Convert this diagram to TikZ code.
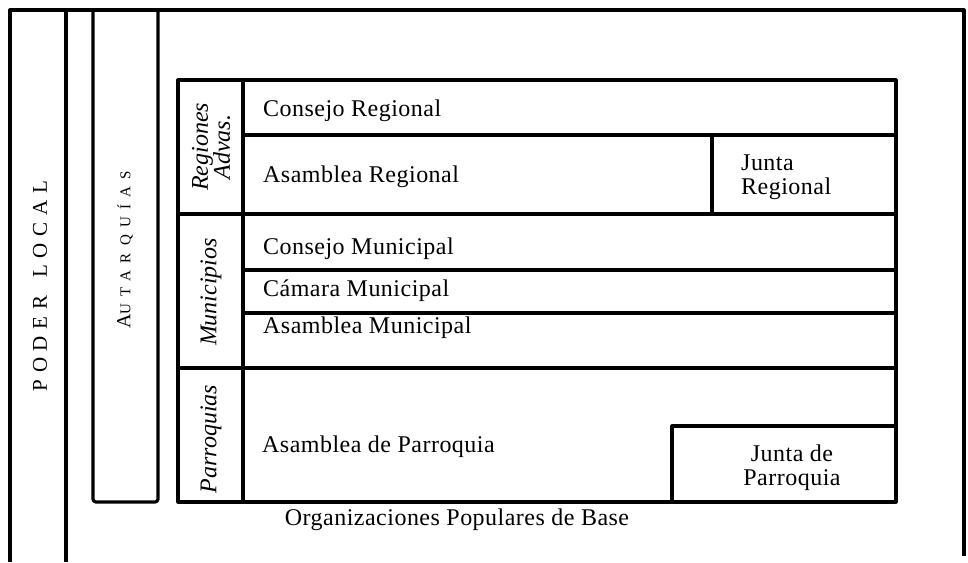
\documentclass[tikz,border=0pt]{standalone}
\usepackage{fontspec}
\setmainfont{Liberation Serif}
\newfontfamily\rowfont[LetterSpace=2]{Liberation Serif}
\newfontfamily\capsfont[LetterSpace=32]{Liberation Serif}
\newfontfamily\smallcapsfont[LetterSpace=48]{Liberation Serif}
\usetikzlibrary{positioning}

\tikzset{
  frame/.style={line width=3.2pt, line join=round},
  rowtext/.style={anchor=west, inner sep=0pt, font=\fontsize{24}{24}\selectfont\rowfont},
  sidetext/.style={rotate=90, align=center, inner sep=0pt, font=\fontsize{24}{22}\selectfont\itshape},
  capstext/.style={rotate=90, inner sep=0pt},
}

\begin{document}
\begin{tikzpicture}[x=1pt, y=-1pt]
\useasboundingbox (0,0) rectangle (968,562);
% outer columns
\draw[frame] (10,562) -- (10,10) -- (964,10) -- (964,556);
\draw[frame] (66,10) -- (66,562);
\draw[frame, rounded corners=3pt] (93,10) -- (93,502) -- (158,502) -- (158,10);
\node[capstext, font=\fontsize{21}{21}\selectfont\capsfont] (poder) at (40,286) {PODER\hspace{6pt} LOCAL};
\node[capstext, font=\smallcapsfont] (autarq) at (125,250)
  {{\fontsize{20}{20}\selectfont A}\fontsize{15}{15}\selectfont UTARQUÍAS};

% inner table
\draw[frame] (178,80) rectangle (896,502);
\draw[frame] (243,80) -- (243,502);
\draw[frame] (243,135) -- (896,135);
\draw[frame] (178,214) -- (896,214);
\draw[frame] (243,270) -- (896,270);
\draw[frame] (243,313) -- (896,313);
\draw[frame] (178,368) -- (896,368);
\draw[frame] (712,135) -- (712,214);
\draw[frame] (672,502) -- (672,426) -- (896,426);

\node[sidetext] (regiones) at (211,147) {Regiones\\Advas.};
\node[sidetext] (municipios) at (211,292) {Municipios};
\node[sidetext] (parroquias) at (211,439) {Parroquias};

\node[rowtext] (conreg) at (263,111) {Consejo Regional};
\node[rowtext] (asareg) at (263,177) {Asamblea Regional};
\node[rowtext, align=left] (juntareg) at (741,177) {Junta\\Regional};
\node[rowtext] (conmun) at (263,249) {Consejo Municipal};
\node[rowtext] (cammun) at (263,291) {Cámara Municipal};
\node[rowtext] (asamun) at (263,328) {Asamblea Municipal};
\node[rowtext] (asapar) at (262,447) {Asamblea de Parroquia};
\node[rowtext, anchor=center, align=center] (juntapar) at (792,468) {Junta de\\Parroquia};

\node[rowtext, anchor=center] (base) at (457,520) {Organizaciones Populares de Base};
\end{tikzpicture}
\end{document}
